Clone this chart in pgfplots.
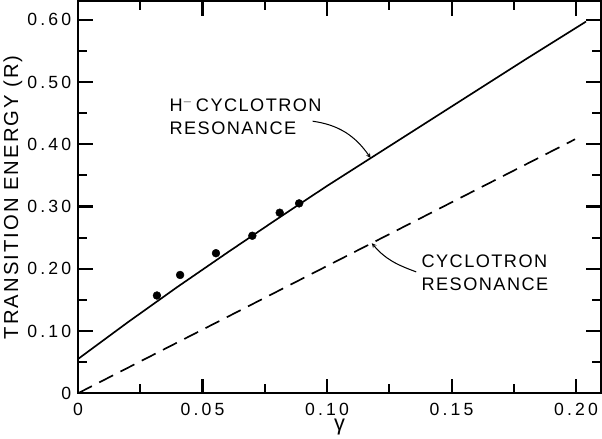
\documentclass[border=0pt]{standalone}
\usepackage{pgfplots}
\pgfplotsset{compat=1.18}
\usepackage{fontspec}
\setmainfont{Liberation Sans}[LetterSpace=8]
\newfontfamily\tickfont{Liberation Sans}[LetterSpace=18]
\newfontfamily\labelfont{Liberation Sans}[LetterSpace=10]

\begin{document}
\begin{tikzpicture}
\begin{axis}[
    scale only axis,
    width=504pt, height=378pt,
    xmin=0, xmax=0.21, ymin=0, ymax=0.63,
    axis line style={line width=1.7pt},
    xtick={0,0.05,0.10,0.15,0.20},
    xticklabels={0,0.05,0.10,0.15,0.20},
    ytick={0,0.1,0.2,0.3,0.4,0.5,0.6},
    yticklabels={0,0.10,0.20,0.30,0.40,0.50,0.60},
    minor x tick num=1, minor y tick num=1,
    tick pos=both,
    tick align=inside,
    major tick length=14pt, minor tick length=9pt,
    tick style={line width=2pt, black},
    ticklabel style={font=\fontsize{17}{20}\selectfont\tickfont},
    yticklabel style={xshift=-3pt},
    xticklabel style={yshift=-6pt},
    xlabel={γ},
    xlabel style={font=\fontsize{21}{24}\selectfont, yshift=4pt},
    ylabel={TRANSITION ENERGY (R)},
    ylabel style={font=\fontsize{19.5}{22}\selectfont\labelfont, yshift=-2pt},
    clip=false,
]
% H- cyclotron resonance (solid)
\addplot[black, line width=1.6pt] coordinates {
(0,0.055) (0.02,0.114) (0.04,0.171) (0.06,0.226) (0.08,0.280)
(0.10,0.333) (0.12,0.384) (0.14,0.435) (0.16,0.486) (0.18,0.537) (0.204,0.597)
};
% free cyclotron resonance (dashed)
\addplot[black, line width=1.6pt, dash pattern=on 15pt off 8pt] coordinates {
(0,0) (0.1996,0.408)
};
% measured points
\addplot[only marks, mark=*, mark size=3.8pt, black] coordinates {
(0.0317,0.157) (0.041,0.190) (0.0554,0.225) (0.070,0.253) (0.081,0.290) (0.0888,0.305)
};

\node[anchor=west, align=left, font=\fontsize{17.5}{22}\selectfont, inner sep=0pt]
  at (axis cs:0.0367,0.445) {H$^{-}$\,CYCLOTRON\\RESONANCE};
\draw[line width=1pt, -stealth]
  (axis cs:0.0942,0.437) to[out=-8,in=125] (axis cs:0.1175,0.378);

\node[anchor=west, align=left, font=\fontsize{17.5}{22}\selectfont, inner sep=0pt]
  at (axis cs:0.1379,0.194) {CYCLOTRON\\RESONANCE};
\draw[line width=1pt, -stealth]
  (axis cs:0.1358,0.195) to[out=160,in=-50] (axis cs:0.1180,0.241);
\end{axis}
\end{tikzpicture}
\end{document}
